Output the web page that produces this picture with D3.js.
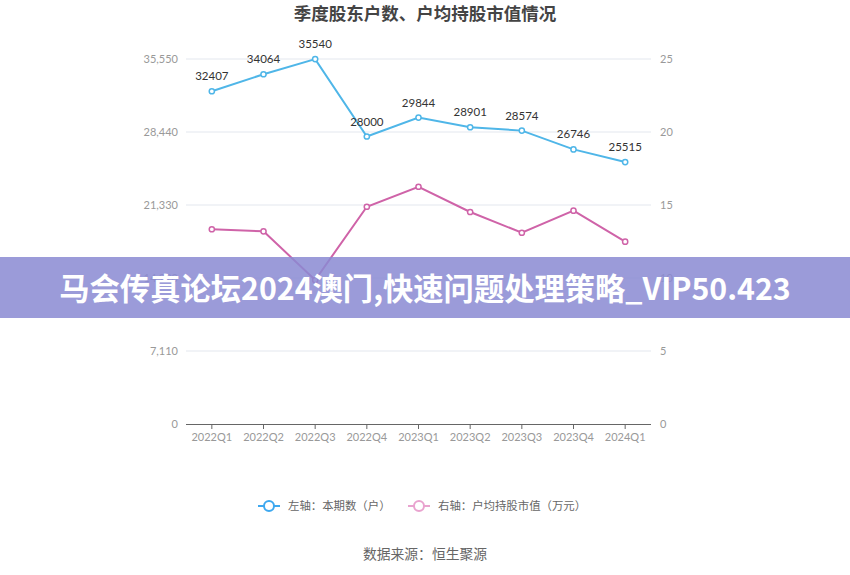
<!DOCTYPE html>
<html><head><meta charset="utf-8">
<script src="https://cdn.jsdelivr.net/npm/d3@7/dist/d3.min.js"></script>
<style>body{margin:0;background:#fff;}svg{display:block;font-family:"Noto Sans CJK SC","Microsoft YaHei",sans-serif;}</style>
</head><body>
<svg id="c" width="850" height="575"></svg>
<script>
const categories = ["2022Q1","2022Q2","2022Q3","2022Q4","2023Q1","2023Q2","2023Q3","2023Q4","2024Q1"];
const holders = [32407,34064,35540,28000,29844,28901,28574,26746,25515];
const avgValue = [13.34,13.20,9.86,14.88,16.25,14.52,13.10,14.61,12.49];
const leftTicks = [0,7110,14220,21330,28440,35550];
const rightTicks = [0,5,10,15,20,25];
const title = "季度股东户数、户均持股市值情况";
const legendLabels = ["左轴：本期数（户）","右轴：户均持股市值（万元）"];
const source = "数据来源：恒生聚源";
const banner = "马会传真论坛2024澳门,快速问题处理策略_VIP50.423";

const svg = d3.select("#c");
const L = 186, R = 651, T = 59, B = 424;
const blue = "#4fb6e8", pink = "#cf63a8";

const x = d3.scaleBand().domain(categories).range([L, R]);
const yL = d3.scaleLinear().domain([0, 35550]).range([B, T]);
const yR = d3.scaleLinear().domain([0, 25]).range([B, T]);

svg.append("text").attr("x", 425).attr("y", 20).attr("text-anchor", "middle")
  .attr("font-size", 17.5).attr("font-weight", "bold").attr("fill", "#444").text(title);

// grid
svg.append("g").selectAll("line").data(leftTicks.filter(d => d > 0)).join("line")
  .attr("x1", L).attr("x2", R).attr("y1", d => yL(d)).attr("y2", d => yL(d))
  .attr("stroke", "#e3e7ee").attr("stroke-width", 1);

// left axis
const gl = svg.append("g").attr("transform", `translate(${L - 8},0)`)
  .call(d3.axisLeft(yL).tickValues(leftTicks).tickFormat(d3.format(",")).tickSize(0).tickPadding(0));
gl.select(".domain").remove();
gl.selectAll("text").attr("fill", "#999").attr("font-size", 11).attr("font-family", "Lato, 'Open Sans', sans-serif");

// right axis
const gr = svg.append("g").attr("transform", `translate(${R + 9},0)`)
  .call(d3.axisRight(yR).tickValues(rightTicks).tickSize(0).tickPadding(0));
gr.select(".domain").remove();
gr.selectAll("text").attr("fill", "#999").attr("font-size", 11).attr("font-family", "Lato, 'Open Sans', sans-serif");

// x axis
const gx = svg.append("g").attr("transform", `translate(0,${B})`)
  .call(d3.axisBottom(x).tickSize(5).tickPadding(4));
gx.select(".domain").attr("stroke", "#666").attr("d", `M${L},0.5H${R}`);
gx.selectAll(".tick line").attr("stroke", "#666");
gx.selectAll("text").attr("fill", "#999").attr("font-size", 11).attr("font-family", "Lato, 'Open Sans', sans-serif");

const cx = d => x(d) + x.bandwidth() / 2;

// pink line
svg.append("path").datum(avgValue).attr("fill", "none").attr("stroke", pink).attr("stroke-width", 2)
  .attr("d", d3.line().x((d, i) => cx(categories[i])).y(d => yR(d)));
svg.append("g").selectAll("circle").data(avgValue).join("circle")
  .attr("cx", (d, i) => cx(categories[i])).attr("cy", d => yR(d)).attr("r", 2.6)
  .attr("fill", "#fff").attr("stroke", pink).attr("stroke-width", 1.5);

// blue line
svg.append("path").datum(holders).attr("fill", "none").attr("stroke", blue).attr("stroke-width", 2)
  .attr("d", d3.line().x((d, i) => cx(categories[i])).y(d => yL(d)));
svg.append("g").selectAll("circle").data(holders).join("circle")
  .attr("cx", (d, i) => cx(categories[i])).attr("cy", d => yL(d)).attr("r", 2.6)
  .attr("fill", "#fff").attr("stroke", blue).attr("stroke-width", 1.5);
svg.append("g").selectAll("text").data(holders).join("text")
  .attr("x", (d, i) => cx(categories[i])).attr("y", d => yL(d) - 11)
  .attr("text-anchor", "middle").attr("font-size", 11.5).attr("fill", "#333")
  .attr("font-family", "Lato, 'Open Sans', sans-serif").text(d => d);

// legend
const lg = svg.append("g");
const items = [{c: "#3ea8ef", t: legendLabels[0], x: 258}, {c: "#e9a3cf", t: legendLabels[1], x: 408}];
items.forEach(it => {
  lg.append("line").attr("x1", it.x).attr("x2", it.x + 22).attr("y1", 506).attr("y2", 506)
    .attr("stroke", it.c).attr("stroke-width", 2);
  lg.append("circle").attr("cx", it.x + 11).attr("cy", 506).attr("r", 5)
    .attr("fill", "#fff").attr("stroke", it.c).attr("stroke-width", 2);
  lg.append("text").attr("x", it.x + 30).attr("y", 510).attr("font-size", 11.4).attr("fill", "#666").text(it.t);
});

svg.append("text").attr("x", 425).attr("y", 559).attr("text-anchor", "middle")
  .attr("font-size", 13.8).attr("fill", "#666").text(source);

// banner
svg.append("rect").attr("x", 0).attr("y", 257).attr("width", 850).attr("height", 61)
  .attr("fill", "rgb(138,138,210)").attr("fill-opacity", 0.85);
svg.append("text").attr("x", 425).attr("y", 300).attr("text-anchor", "middle")
  .attr("font-size", 30.3).attr("font-weight", "bold").attr("fill", "#fff").text(banner);
</script>
</body></html>
